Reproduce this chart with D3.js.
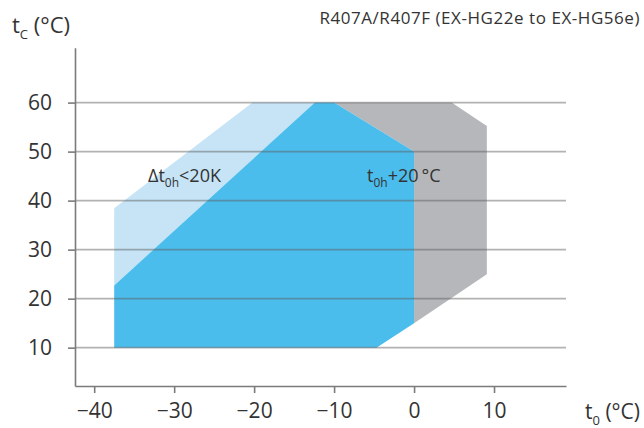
<!DOCTYPE html>
<html>
<head>
<meta charset="utf-8">
<script src="https://cdn.jsdelivr.net/npm/d3@7"></script>
<style>
  html, body { margin: 0; padding: 0; background: #fff; }
  svg text { font-family: "Open Sans", "Noto Sans", sans-serif; fill: #333; }
</style>
</head>
<body>
<svg id="chart" width="644" height="428"></svg>
<script>
// Application envelope: evaporating temperature t0 vs condensing temperature tC (°C)
const xTicks = [-40, -30, -20, -10, 0, 10];
const yTicks = [10, 20, 30, 40, 50, 60];

// Extended range with limited suction superheat (Δt0h < 20K)
const lightBlueT0 = [-37.5, -37.5, -20.2, -12.4];
const lightBlueTc = [22.7, 38.45, 60, 60];

// Standard application range
const blueT0 = [-37.5, -37.5, -12.4, -10, 0, 0, -4.7];
const blueTc = [10, 22.7, 60, 60, 50, 15, 10];

// Range with suction gas temperature t0h + 20 °C
const grayT0 = [-10, 4.7, 9.1, 9.1, 0, 0];
const grayTc = [60, 60, 55.2, 25, 15, 50];

const svg = d3.select("#chart");

const x = d3.scaleLinear().domain([-42.4, 19]).range([75, 566]);
const y = d3.scaleLinear().domain([2.18, 71.2]).range([386, 47.7]);

const toPts = (xs, ys) => xs.map((v, i) => [x(v), y(ys[i])]);
const line = d3.line().curve(d3.curveLinearClosed);

const areas = [
  { pts: toPts(grayT0, grayTc), fill: "#b6b7bb" },
  { pts: toPts(lightBlueT0, lightBlueTc), fill: "#c6e4f6" },
  { pts: toPts(blueT0, blueTc), fill: "#4bbdec" }
];

svg.append("g").selectAll("path")
  .data(areas)
  .join("path")
  .attr("d", d => line(d.pts))
  .attr("fill", d => d.fill);

// Horizontal grid lines laid over the areas
svg.append("g").selectAll("line")
  .data(yTicks)
  .join("line")
  .attr("x1", x.range()[0]).attr("x2", x.range()[1])
  .attr("y1", d => y(d)).attr("y2", d => y(d))
  .attr("stroke", "rgba(95,95,95,0.48)")
  .attr("stroke-width", 1.6);

// Y axis
const yAxis = svg.append("g")
  .attr("transform", `translate(${x.range()[0]},0)`)
  .call(d3.axisLeft(y).tickValues(yTicks).tickSize(7).tickPadding(16).tickSizeOuter(0));
// X axis
const xAxis = svg.append("g")
  .attr("transform", `translate(0,${y.range()[0]})`)
  .call(d3.axisBottom(x).tickValues(xTicks).tickSize(7).tickPadding(10).tickSizeOuter(0)
    .tickFormat(d => d < 0 ? "\u2212" + Math.abs(d) : String(d)));

[yAxis, xAxis].forEach(a => {
  a.select(".domain").attr("stroke", "#7b7b7b").attr("stroke-width", 1.6);
  a.selectAll(".tick line").attr("stroke", "#7b7b7b").attr("stroke-width", 1.6);
  a.selectAll(".tick text")
    .attr("font-family", "'Open Sans', 'Noto Sans', sans-serif")
    .attr("font-size", 21)
    .attr("fill", "#333");
});

// Axis titles
const tc = svg.append("text").attr("x", 12).attr("y", 33).attr("font-size", 22);
tc.append("tspan").text("t");
tc.append("tspan").attr("font-size", 13).attr("dy", 6).text("C");
tc.append("tspan").attr("dy", -6).text(" (°C)");

const t0 = svg.append("text").attr("x", 585).attr("y", 419).attr("font-size", 21);
t0.append("tspan").text("t");
t0.append("tspan").attr("font-size", 13).attr("dy", 6).text("0");
t0.append("tspan").attr("dy", -6).text(" (°C)");

// Chart title
svg.append("text")
  .attr("x", 640).attr("y", 24)
  .attr("text-anchor", "end")
  .attr("font-size", 17)
  .attr("letter-spacing", 0.55)
  .text("R407A/R407F (EX-HG22e to EX-HG56e)");

// Area annotations
const a1 = svg.append("text").attr("x", 148).attr("y", 182).attr("font-size", 18);
a1.append("tspan").text("\u0394t");
a1.append("tspan").attr("font-size", 12).attr("dy", 5).text("0h");
a1.append("tspan").attr("dy", -5).text("<20K");

const a2 = svg.append("text").attr("x", 367).attr("y", 182).attr("font-size", 18);
a2.append("tspan").text("t");
a2.append("tspan").attr("font-size", 12).attr("dy", 5).text("0h");
a2.append("tspan").attr("dy", -5).text("+20\u2009\u00B0C");
</script>
</body>
</html>
